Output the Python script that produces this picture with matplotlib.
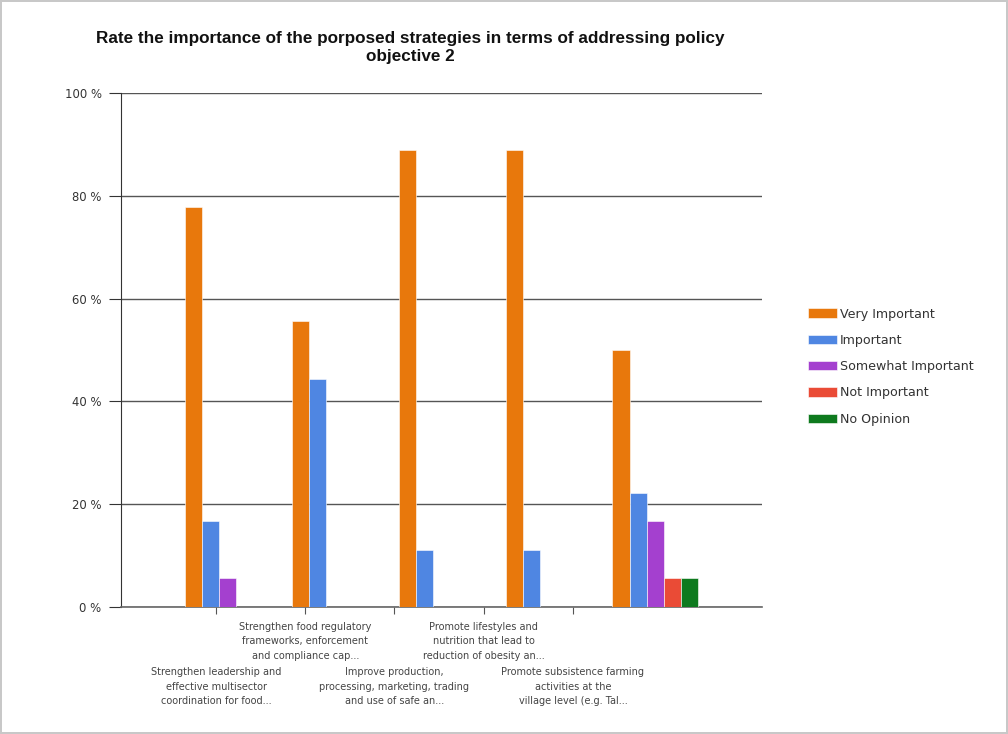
import matplotlib
matplotlib.use("Agg")
import matplotlib.pyplot as plt
import numpy as np

plt.rcParams['font.family'] = ['DejaVu Sans']

title = "Rate the importance of the porposed strategies in terms of addressing policy\nobjective 2"
categories = [
    "Strengthen leadership and\neffective multisector\ncoordination for food...",
    "Strengthen food regulatory\nframeworks, enforcement\nand compliance cap...",
    "Improve production,\nprocessing, marketing, trading\nand use of safe an...",
    "Promote lifestyles and\nnutrition that lead to\nreduction of obesity an...",
    "Promote subsistence farming\nactivities at the\nvillage level (e.g. Tal...",
]
series_names = ["Very Important", "Important", "Somewhat Important", "Not Important", "No Opinion"]
very_important = [77.8, 55.6, 88.9, 88.9, 50.0]
important = [16.7, 44.4, 11.1, 11.1, 22.2]
somewhat_important = [5.6, 0, 0, 0, 16.7]
not_important = [0, 0, 0, 0, 5.6]
no_opinion = [0, 0, 0, 0, 5.6]
yticks = [0, 20, 40, 60, 80, 100]
ytick_labels = ["0 %", "20 %", "40 %", "60 %", "80 %", "100 %"]

colors = ["#E8780C", "#4F86E2", "#A440CF", "#EA4B36", "#0E7A1E"]
series = [very_important, important, somewhat_important, not_important, no_opinion]

fig = plt.figure(figsize=(10.08, 7.34), dpi=100)
fig.patch.set_facecolor("white")
fig.patch.set_edgecolor("#C8C8C8")
fig.patch.set_linewidth(1.5)
ax = fig.add_axes([0.12, 0.173, 0.636, 0.700])

x = np.arange(1, len(categories) + 1)
w = 0.16
for i, (vals, c, name) in enumerate(zip(series, colors, series_names)):
    ax.bar(x + (i - 2) * w, vals, width=w, color=c, label=name, zorder=3,
           edgecolor="white", linewidth=0.4)

ax.set_xlim(0, 6)
ax.set_ylim(0, 100)
ax.set_yticks(yticks)
ax.set_yticklabels(ytick_labels, fontsize=8.4, color="#333333")
ax.yaxis.grid(True, color="#555555", linewidth=1.0, zorder=0)
for s in ["top", "right"]:
    ax.spines[s].set_visible(False)
ax.spines["left"].set_color("#333333")
ax.spines["bottom"].set_color("#666666")
ax.spines["bottom"].set_linewidth(1.2)
ax.tick_params(axis="y", length=9, color="#333333", pad=5)

tick_pos = [0.89 + k * 0.835 for k in range(len(categories))]
ax.set_xticks(tick_pos)
ax.set_xticklabels([])
ax.tick_params(axis="x", length=5, color="#555555", direction="out")
for k, (tp, lab) in enumerate(zip(tick_pos, categories)):
    yy = -0.117 if k % 2 == 0 else -0.029
    ax.text(tp, yy, lab, transform=ax.get_xaxis_transform(), ha="center", va="top",
            fontsize=7.0, color="#444444", linespacing=1.55)

fig.text(0.407, 0.958, title, ha="center", va="top", fontsize=12.35, fontweight="bold",
         color="#111111", linespacing=1.25, family=["Liberation Sans"])

leg = ax.legend(loc="center left", bbox_to_anchor=(1.071, 0.468), frameon=False,
                fontsize=9.1, handlelength=2.3, handleheight=0.75, labelspacing=1.05,
                handletextpad=0.25, borderaxespad=0, borderpad=0)
for t in leg.get_texts():
    t.set_color("#333333")

fig.savefig("out.png", dpi=100, facecolor=fig.get_facecolor(), edgecolor=fig.get_edgecolor())
